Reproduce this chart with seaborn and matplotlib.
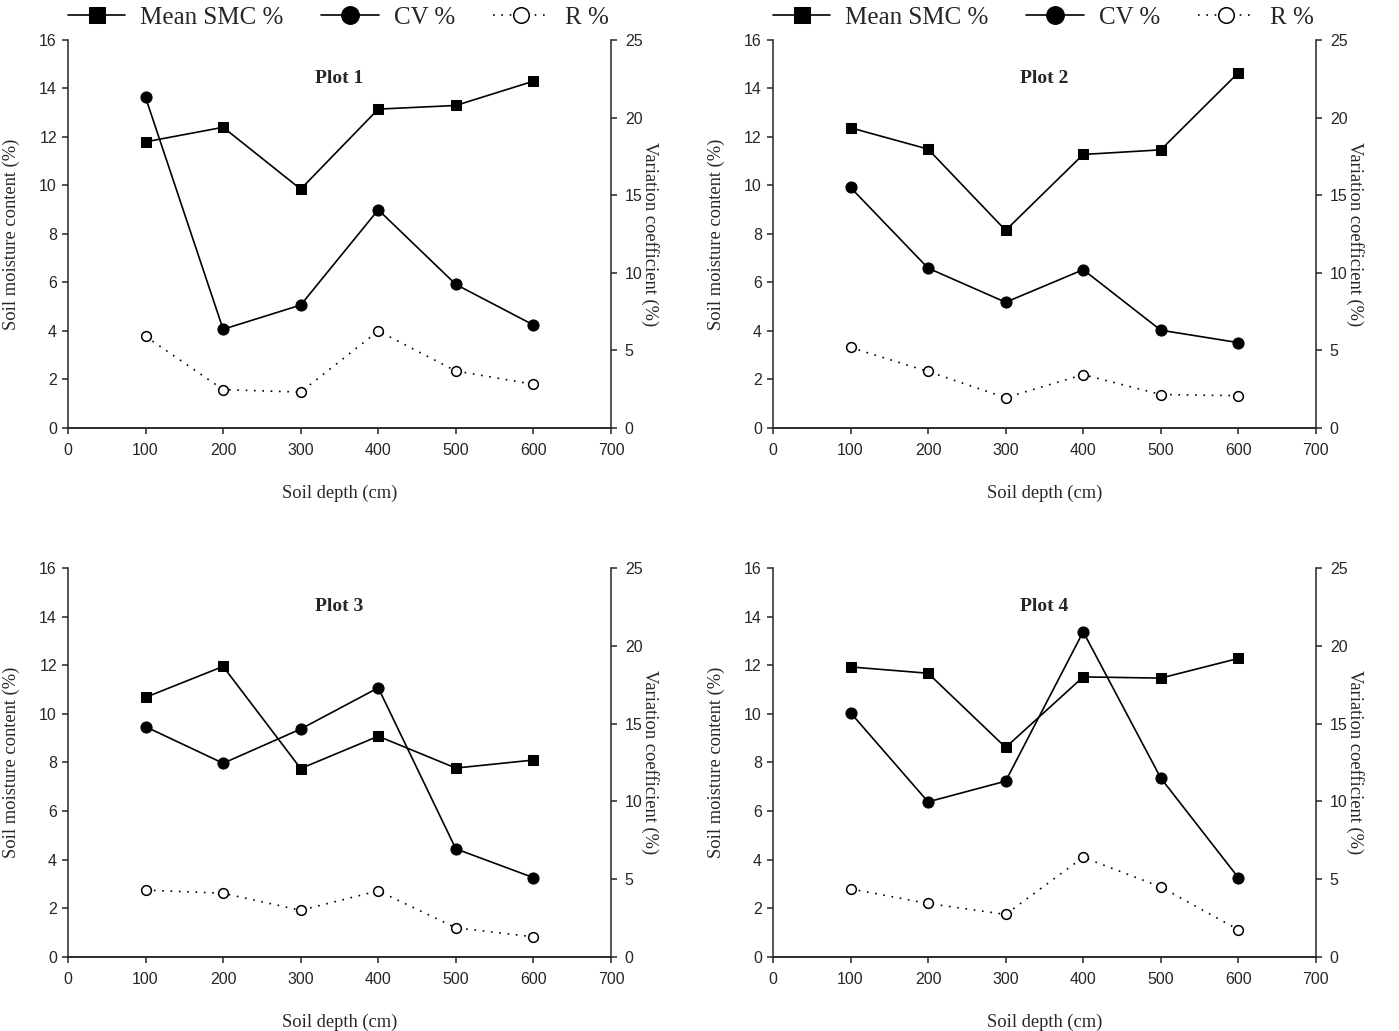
import matplotlib
matplotlib.use("Agg")
import matplotlib.pyplot as plt
import seaborn as sns
import pandas as pd

# ---------------- data ----------------
depth = [100, 200, 300, 400, 500, 600]
plot_titles = ["Plot 1", "Plot 2", "Plot 3", "Plot 4"]

# Mean soil moisture content (%) - left axis
smc_p1 = [11.8, 12.4, 9.85, 13.15, 13.3, 14.3]
smc_p2 = [12.38, 11.5, 8.15, 11.28, 11.47, 14.65]
smc_p3 = [10.68, 11.95, 7.75, 9.08, 7.77, 8.1]
smc_p4 = [11.93, 11.67, 8.62, 11.52, 11.47, 12.28]

# Coefficient of variation (%) - right axis
cv_p1 = [21.3, 6.36, 7.92, 14.06, 9.25, 6.64]
cv_p2 = [15.5, 10.3, 8.1, 10.2, 6.3, 5.5]
cv_p3 = [14.8, 12.45, 14.65, 17.3, 6.95, 5.1]
cv_p4 = [15.7, 9.97, 11.3, 20.9, 11.5, 5.1]

# R (%) - left axis
r_p1 = [3.78, 1.58, 1.48, 4.0, 2.35, 1.8]
r_p2 = [3.32, 2.33, 1.25, 2.2, 1.38, 1.33]
r_p3 = [2.75, 2.62, 1.92, 2.72, 1.2, 0.83]
r_p4 = [2.8, 2.2, 1.75, 4.1, 2.88, 1.12]

smc_all = [smc_p1, smc_p2, smc_p3, smc_p4]
cv_all = [cv_p1, cv_p2, cv_p3, cv_p4]
r_all = [r_p1, r_p2, r_p3, r_p4]

x_ticks = [0, 100, 200, 300, 400, 500, 600, 700]
left_ticks = [0, 2, 4, 6, 8, 10, 12, 14, 16]
right_ticks = [0, 5, 10, 15, 20, 25]

# ---------------- style ----------------
sns.set_style("ticks")
plt.rcParams["font.family"] = ["Liberation Serif", "DejaVu Serif"]
plt.rcParams["axes.linewidth"] = 1.1
plt.rcParams["xtick.major.width"] = 1.1
plt.rcParams["ytick.major.width"] = 1.1
plt.rcParams["xtick.major.size"] = 4
plt.rcParams["ytick.major.size"] = 4
plt.rcParams["xtick.direction"] = "out"
plt.rcParams["ytick.direction"] = "out"

TICK_FONT = ["Liberation Sans", "DejaVu Sans"]

fig = plt.figure(figsize=(13.99, 10.31), dpi=100)
positions = [
    [0.0486, 0.5849, 0.3881, 0.3763],
    [0.5525, 0.5849, 0.3881, 0.3763],
    [0.0486, 0.0718, 0.3881, 0.3773],
    [0.5525, 0.0718, 0.3881, 0.3773],
]

for i in range(4):
    ax = fig.add_axes(positions[i])
    ax2 = ax.twinx()
    df = pd.DataFrame({"depth": depth, "smc": smc_all[i], "cv": cv_all[i], "r": r_all[i]})

    sns.lineplot(data=df, x="depth", y="smc", ax=ax, color="black", marker="s",
                 markersize=7.5, markeredgecolor="black", markerfacecolor="black",
                 linewidth=1.2, label="Mean SMC %", legend=False, zorder=3)
    sns.lineplot(data=df, x="depth", y="r", ax=ax, color="black", marker="o",
                 markersize=7, markeredgecolor="black", markerfacecolor="white",
                 markeredgewidth=1.1, linewidth=1.2, linestyle=(0, (1, 4)),
                 label="R %", legend=False, zorder=3)
    sns.lineplot(data=df, x="depth", y="cv", ax=ax2, color="black", marker="o",
                 markersize=8, markeredgecolor="black", markerfacecolor="black",
                 linewidth=1.2, label="CV %", legend=False, zorder=3)

    ax.set_xlim(0, 700)
    ax.set_ylim(0, 16)
    ax2.set_ylim(0, 25)
    ax.set_xticks(x_ticks)
    ax.set_yticks(left_ticks)
    ax2.set_yticks(right_ticks)
    for lab in ax.get_xticklabels() + ax.get_yticklabels() + ax2.get_yticklabels():
        lab.set_fontfamily(TICK_FONT)
        lab.set_fontsize(11.5)
    ax.tick_params(axis="x", pad=7)
    ax.tick_params(axis="y", pad=4)
    ax2.tick_params(axis="y", pad=6)

    ax.set_xlabel("Soil depth (cm)", fontsize=13.3, labelpad=19)
    ax.set_ylabel("Soil moisture content (%)", fontsize=13.3, labelpad=14)
    ax2.set_ylabel("Variation coefficient (%)", fontsize=13.3, rotation=270,
                   labelpad=12)

    ax.spines["top"].set_visible(False)
    ax.spines["right"].set_visible(False)
    ax2.spines["top"].set_visible(False)
    ax2.spines["left"].set_visible(False)
    ax.text(0.5, 0.9, plot_titles[i], transform=ax.transAxes, ha="center",
            va="center", fontsize=14, fontweight="bold")

    if i < 2:
        h1, l1 = ax.get_legend_handles_labels()
        h2, l2 = ax2.get_legend_handles_labels()
        hmap = dict(zip(l1 + l2, h1 + h2))
        order = ["Mean SMC %", "CV %", "R %"]
        ax.legend([hmap[k] for k in order], order, loc="center left",
                  bbox_to_anchor=(0.0, 1.058), ncol=3, frameon=False,
                  fontsize=18, handlelength=2.3, handletextpad=0.6,
                  columnspacing=1.5, borderaxespad=0, borderpad=0,
                  markerscale=1.6)

fig.savefig("out.png", dpi=100)
